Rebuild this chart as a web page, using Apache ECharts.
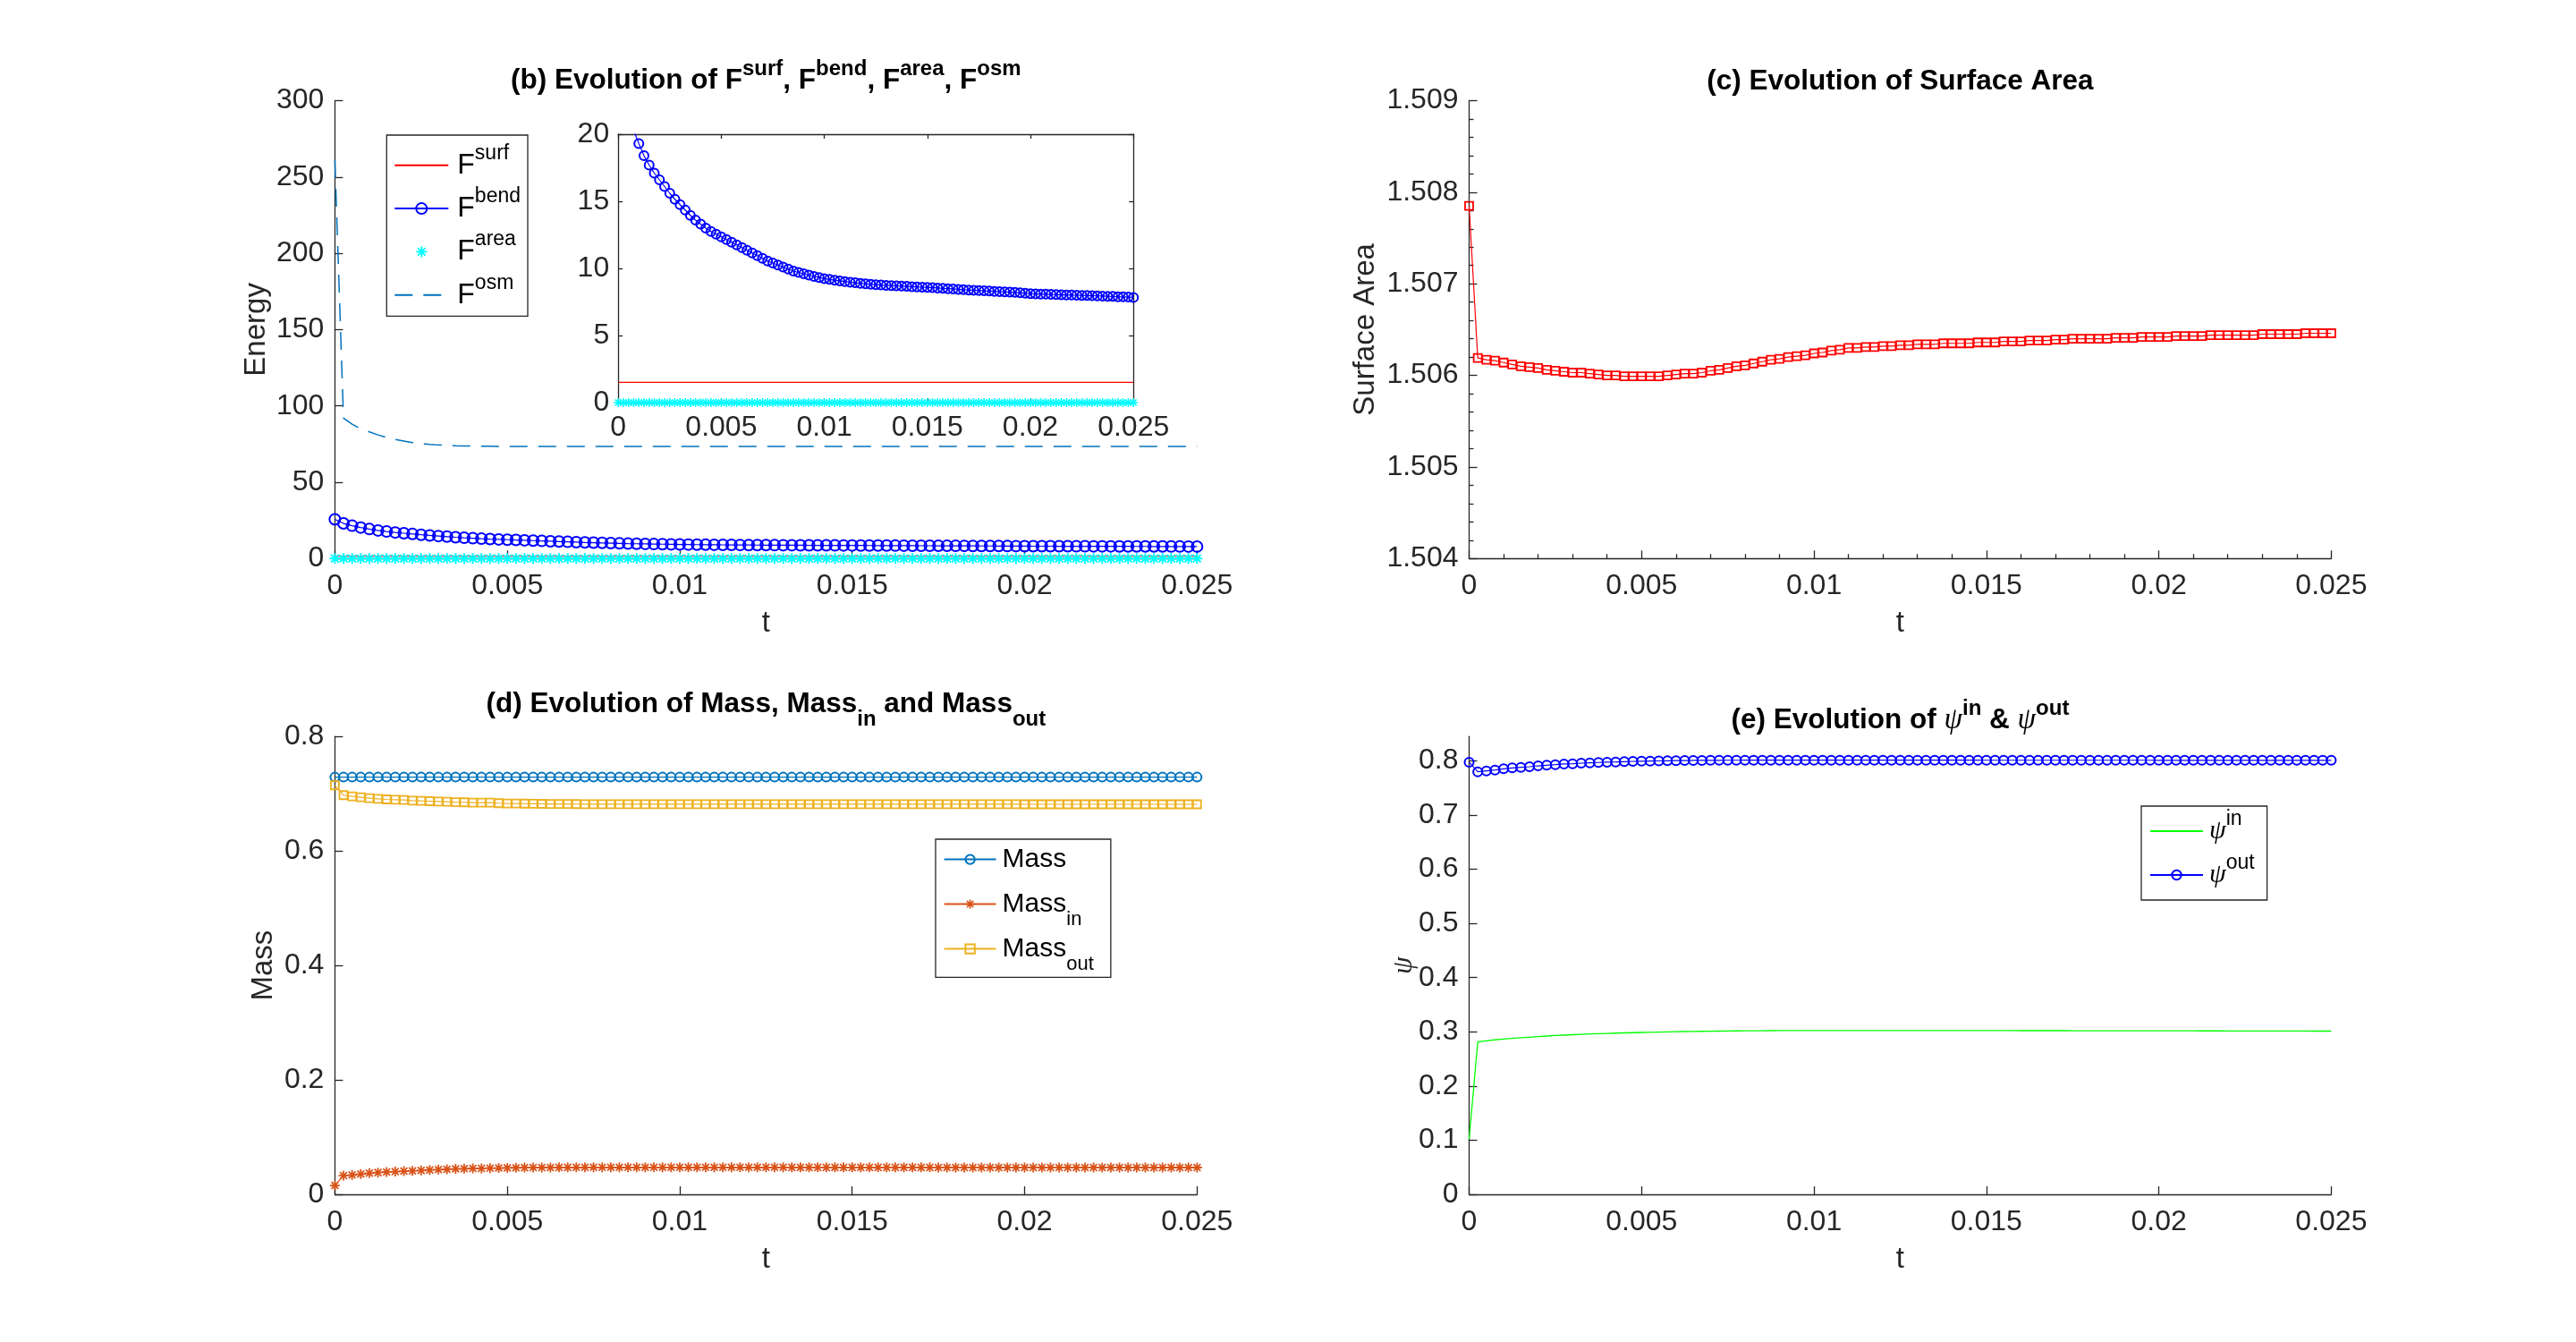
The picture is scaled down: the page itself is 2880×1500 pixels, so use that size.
<!DOCTYPE html>
<html>
<head>
<meta charset="utf-8">
<title>Evolution of energies, surface area, mass and psi</title>
<script src="https://cdn.jsdelivr.net/npm/echarts@6/dist/echarts.min.js"></script>
<style>
    html, body { margin: 0; padding: 0; background: #fff; }
    #main { width: 2880px; height: 1500px; }
</style>
</head>
<body>
<div id="main"></div>
<script>
    // time samples (dt = 0.00025)
    var tVals = [
        0, 0.00025, 0.0005, 0.00075, 0.001, 0.00125, 0.0015, 0.00175, 0.002, 0.00225,
        0.0025, 0.00275, 0.003, 0.00325, 0.0035, 0.00375, 0.004, 0.00425, 0.0045, 0.00475,
        0.005, 0.00525, 0.0055, 0.00575, 0.006, 0.00625, 0.0065, 0.00675, 0.007, 0.00725,
        0.0075, 0.00775, 0.008, 0.00825, 0.0085, 0.00875, 0.009, 0.00925, 0.0095, 0.00975,
        0.01, 0.01025, 0.0105, 0.01075, 0.011, 0.01125, 0.0115, 0.01175, 0.012, 0.01225,
        0.0125, 0.01275, 0.013, 0.01325, 0.0135, 0.01375, 0.014, 0.01425, 0.0145, 0.01475,
        0.015, 0.01525, 0.0155, 0.01575, 0.016, 0.01625, 0.0165, 0.01675, 0.017, 0.01725,
        0.0175, 0.01775, 0.018, 0.01825, 0.0185, 0.01875, 0.019, 0.01925, 0.0195, 0.01975,
        0.02, 0.02025, 0.0205, 0.02075, 0.021, 0.02125, 0.0215, 0.02175, 0.022, 0.02225,
        0.0225, 0.02275, 0.023, 0.02325, 0.0235, 0.02375, 0.024, 0.02425, 0.0245, 0.02475,
        0.025
    ];

    // (b) energies
    var fSurf = [
        1.51, 1.51, 1.51, 1.51, 1.51, 1.51, 1.51, 1.51, 1.51, 1.51,
        1.51, 1.51, 1.51, 1.51, 1.51, 1.51, 1.51, 1.51, 1.51, 1.51,
        1.51, 1.51, 1.51, 1.51, 1.51, 1.51, 1.51, 1.51, 1.51, 1.51,
        1.51, 1.51, 1.51, 1.51, 1.51, 1.51, 1.51, 1.51, 1.51, 1.51,
        1.51, 1.51, 1.51, 1.51, 1.51, 1.51, 1.51, 1.51, 1.51, 1.51,
        1.51, 1.51, 1.51, 1.51, 1.51, 1.51, 1.51, 1.51, 1.51, 1.51,
        1.51, 1.51, 1.51, 1.51, 1.51, 1.51, 1.51, 1.51, 1.51, 1.51,
        1.51, 1.51, 1.51, 1.51, 1.51, 1.51, 1.51, 1.51, 1.51, 1.51,
        1.51, 1.51, 1.51, 1.51, 1.51, 1.51, 1.51, 1.51, 1.51, 1.51,
        1.51, 1.51, 1.51, 1.51, 1.51, 1.51, 1.51, 1.51, 1.51, 1.51,
        1.51
    ];
    var fBend = [
        25.7, 23.0, 21.5, 20.3, 19.3, 18.4, 17.7, 17.1, 16.6, 16.1,
        15.6, 15.15, 14.75, 14.35, 13.95, 13.6, 13.3, 13.0, 12.75, 12.55,
        12.35, 12.15, 11.95, 11.75, 11.55, 11.35, 11.15, 10.95, 10.75, 10.55,
        10.4, 10.25, 10.1, 9.95, 9.8, 9.7, 9.6, 9.5, 9.4, 9.32,
        9.24, 9.18, 9.12, 9.07, 9.02, 8.97, 8.93, 8.89, 8.85, 8.82,
        8.79, 8.76, 8.74, 8.72, 8.70, 8.68, 8.66, 8.64, 8.62, 8.60,
        8.58, 8.57, 8.54, 8.51, 8.49, 8.47, 8.44, 8.41, 8.39, 8.37,
        8.35, 8.33, 8.31, 8.29, 8.27, 8.25, 8.23, 8.21, 8.18, 8.15,
        8.12, 8.10, 8.09, 8.08, 8.06, 8.05, 8.03, 8.02, 8.01, 8.00,
        7.99, 7.98, 7.97, 7.95, 7.94, 7.92, 7.91, 7.89, 7.88, 7.86,
        7.84
    ];
    var fArea = [
        0, 0, 0, 0, 0, 0, 0, 0, 0, 0,
        0, 0, 0, 0, 0, 0, 0, 0, 0, 0,
        0, 0, 0, 0, 0, 0, 0, 0, 0, 0,
        0, 0, 0, 0, 0, 0, 0, 0, 0, 0,
        0, 0, 0, 0, 0, 0, 0, 0, 0, 0,
        0, 0, 0, 0, 0, 0, 0, 0, 0, 0,
        0, 0, 0, 0, 0, 0, 0, 0, 0, 0,
        0, 0, 0, 0, 0, 0, 0, 0, 0, 0,
        0, 0, 0, 0, 0, 0, 0, 0, 0, 0,
        0, 0, 0, 0, 0, 0, 0, 0, 0, 0,
        0
    ];
    var fOsm = [
        261, 92, 88, 85, 83, 81, 79.3, 78, 77, 76,
        75.3, 74.8, 74.4, 74.1, 73.9, 73.8, 73.7, 73.6, 73.6, 73.5,
        73.5, 73.5, 73.5, 73.5, 73.5, 73.5, 73.5, 73.5, 73.5, 73.5,
        73.5, 73.5, 73.5, 73.5, 73.5, 73.5, 73.5, 73.5, 73.5, 73.5,
        73.5, 73.5, 73.5, 73.5, 73.5, 73.5, 73.5, 73.5, 73.5, 73.5,
        73.5, 73.5, 73.5, 73.5, 73.5, 73.5, 73.5, 73.5, 73.5, 73.5,
        73.5, 73.5, 73.5, 73.5, 73.5, 73.5, 73.5, 73.5, 73.5, 73.5,
        73.5, 73.5, 73.5, 73.5, 73.5, 73.5, 73.5, 73.5, 73.5, 73.5,
        73.5, 73.5, 73.5, 73.5, 73.5, 73.5, 73.5, 73.5, 73.5, 73.5,
        73.5, 73.5, 73.5, 73.5, 73.5, 73.5, 73.5, 73.5, 73.5, 73.5,
        73.5
    ];

    // (c) surface area
    var surfArea = [
        1.50785, 1.50619, 1.50617, 1.50616, 1.50614, 1.50612, 1.50610, 1.50609, 1.50608, 1.50606,
        1.50605, 1.50604, 1.50603, 1.50603, 1.50602, 1.50601, 1.50600, 1.50600, 1.50599, 1.50599,
        1.50599, 1.50599, 1.50599, 1.50600, 1.50601, 1.50602, 1.50602, 1.50603, 1.50605, 1.50606,
        1.50608, 1.50610, 1.50611, 1.50613, 1.50615, 1.50617, 1.50618, 1.50620, 1.50621, 1.50622,
        1.50624, 1.50625, 1.50627, 1.50628, 1.50630, 1.50630, 1.50631, 1.50631, 1.50632, 1.50632,
        1.50633, 1.50633, 1.50634, 1.50634, 1.50634, 1.50635, 1.50635, 1.50635, 1.50635, 1.50636,
        1.50636, 1.50636, 1.50637, 1.50637, 1.50637, 1.50638, 1.50638, 1.50638, 1.50639, 1.50639,
        1.50640, 1.50640, 1.50640, 1.50640, 1.50640, 1.50641, 1.50641, 1.50641, 1.50642, 1.50642,
        1.50642, 1.50642, 1.50643, 1.50643, 1.50643, 1.50643, 1.50644, 1.50644, 1.50644, 1.50644,
        1.50644, 1.50644, 1.50645, 1.50645, 1.50645, 1.50645, 1.50645, 1.50646, 1.50646, 1.50646,
        1.50646
    ];

    // (d) masses
    var mass = [
        0.729, 0.729, 0.729, 0.729, 0.729, 0.729, 0.729, 0.729, 0.729, 0.729,
        0.729, 0.729, 0.729, 0.729, 0.729, 0.729, 0.729, 0.729, 0.729, 0.729,
        0.729, 0.729, 0.729, 0.729, 0.729, 0.729, 0.729, 0.729, 0.729, 0.729,
        0.729, 0.729, 0.729, 0.729, 0.729, 0.729, 0.729, 0.729, 0.729, 0.729,
        0.729, 0.729, 0.729, 0.729, 0.729, 0.729, 0.729, 0.729, 0.729, 0.729,
        0.729, 0.729, 0.729, 0.729, 0.729, 0.729, 0.729, 0.729, 0.729, 0.729,
        0.729, 0.729, 0.729, 0.729, 0.729, 0.729, 0.729, 0.729, 0.729, 0.729,
        0.729, 0.729, 0.729, 0.729, 0.729, 0.729, 0.729, 0.729, 0.729, 0.729,
        0.729, 0.729, 0.729, 0.729, 0.729, 0.729, 0.729, 0.729, 0.729, 0.729,
        0.729, 0.729, 0.729, 0.729, 0.729, 0.729, 0.729, 0.729, 0.729, 0.729,
        0.729
    ];
    var massIn = [
        0.0156, 0.0329, 0.0339, 0.0355, 0.037, 0.0381, 0.0391, 0.0397, 0.0406, 0.0412,
        0.0418, 0.0427, 0.0433, 0.0438, 0.0444, 0.0449, 0.0453, 0.0455, 0.0458, 0.046,
        0.0463, 0.0465, 0.0467, 0.0468, 0.0469, 0.047, 0.0471, 0.0471, 0.0472, 0.0472,
        0.0472, 0.0472, 0.0472, 0.0472, 0.0472, 0.0472, 0.0472, 0.0472, 0.0472, 0.0472,
        0.0472, 0.0472, 0.0472, 0.0472, 0.0472, 0.0472, 0.0472, 0.0472, 0.0472, 0.0472,
        0.0472, 0.0472, 0.0472, 0.0471, 0.0471, 0.0471, 0.0471, 0.0471, 0.0471, 0.0471,
        0.0471, 0.0471, 0.0471, 0.0471, 0.0471, 0.0471, 0.0471, 0.0471, 0.0471, 0.0471,
        0.047, 0.047, 0.047, 0.047, 0.047, 0.047, 0.047, 0.047, 0.047, 0.047,
        0.047, 0.047, 0.047, 0.047, 0.047, 0.047, 0.047, 0.047, 0.047, 0.047,
        0.047, 0.047, 0.047, 0.047, 0.047, 0.0469, 0.0469, 0.0469, 0.0469, 0.0469,
        0.0469
    ];
    var massOut = [
        0.7147, 0.6975, 0.6954, 0.6938, 0.6922, 0.6912, 0.6901, 0.6896, 0.6891, 0.6881,
        0.6875, 0.687, 0.6865, 0.686, 0.6852, 0.685, 0.6845, 0.6844, 0.6843, 0.6835,
        0.6829, 0.6828, 0.6827, 0.6826, 0.6823, 0.6822, 0.6821, 0.682, 0.6819, 0.6818,
        0.6817, 0.6817, 0.6817, 0.6817, 0.6817, 0.6817, 0.6817, 0.6817, 0.6817, 0.6817,
        0.6817, 0.6817, 0.6817, 0.6817, 0.6817, 0.6817, 0.6817, 0.6817, 0.6817, 0.6817,
        0.6816, 0.6816, 0.6816, 0.6816, 0.6816, 0.6816, 0.6816, 0.6816, 0.6816, 0.6816,
        0.6816, 0.6816, 0.6816, 0.6816, 0.6816, 0.6816, 0.6816, 0.6816, 0.6816, 0.6816,
        0.6816, 0.6816, 0.6816, 0.6816, 0.6816, 0.6816, 0.6816, 0.6816, 0.6816, 0.6816,
        0.6815, 0.6815, 0.6815, 0.6815, 0.6815, 0.6815, 0.6815, 0.6815, 0.6815, 0.6815,
        0.6815, 0.6815, 0.6815, 0.6815, 0.6815, 0.6815, 0.6815, 0.6815, 0.6815, 0.6815,
        0.6815
    ];

    // (e) psi in / out
    var psiIn = [
        0.102, 0.2815, 0.2835, 0.2852, 0.2866, 0.2878, 0.289, 0.2901, 0.2912, 0.2922,
        0.2931, 0.2939, 0.2947, 0.2954, 0.296, 0.2966, 0.2971, 0.2976, 0.298, 0.2984,
        0.2988, 0.2992, 0.2996, 0.2999, 0.3002, 0.3005, 0.3007, 0.3009, 0.3011, 0.3013,
        0.3015, 0.3017, 0.3018, 0.3019, 0.302, 0.3021, 0.3022, 0.3023, 0.3023, 0.3023,
        0.3023, 0.3023, 0.3023, 0.3023, 0.3023, 0.3023, 0.3023, 0.3023, 0.3023, 0.3023,
        0.3023, 0.3023, 0.3023, 0.3023, 0.3023, 0.3022, 0.3022, 0.3022, 0.3022, 0.3022,
        0.3022, 0.3022, 0.3022, 0.3022, 0.3021, 0.3021, 0.3021, 0.3021, 0.3021, 0.3021,
        0.302, 0.302, 0.302, 0.302, 0.302, 0.302, 0.3019, 0.3019, 0.3019, 0.3019,
        0.3019, 0.3018, 0.3018, 0.3018, 0.3018, 0.3017, 0.3017, 0.3017, 0.3016, 0.3016,
        0.3016, 0.3016, 0.3015, 0.3015, 0.3015, 0.3014, 0.3014, 0.3014, 0.3013, 0.3013,
        0.3013
    ];
    var psiOut = [
        0.7975, 0.7798, 0.7815, 0.7831, 0.7853, 0.787, 0.7881, 0.7892, 0.7908, 0.792,
        0.793, 0.7942, 0.7947, 0.7958, 0.7964, 0.797, 0.7975, 0.798, 0.7986, 0.7991,
        0.7994, 0.7997, 0.7999, 0.8002, 0.8004, 0.8006, 0.8008, 0.8009, 0.801, 0.8011,
        0.8012, 0.8012, 0.8013, 0.8013, 0.8013, 0.8013, 0.8013, 0.8013, 0.8013, 0.8013,
        0.8013, 0.8013, 0.8013, 0.8013, 0.8013, 0.8013, 0.8013, 0.8013, 0.8013, 0.8013,
        0.8013, 0.8013, 0.8013, 0.8013, 0.8013, 0.8013, 0.8013, 0.8013, 0.8013, 0.8013,
        0.8012, 0.8012, 0.8012, 0.8012, 0.8012, 0.8012, 0.8012, 0.8012, 0.8012, 0.8012,
        0.8012, 0.8012, 0.8012, 0.8012, 0.8012, 0.8012, 0.8012, 0.8012, 0.8012, 0.8012,
        0.8011, 0.8011, 0.8011, 0.8011, 0.8011, 0.8011, 0.8011, 0.8011, 0.8011, 0.8011,
        0.8011, 0.8011, 0.8011, 0.8011, 0.8011, 0.801, 0.801, 0.801, 0.801, 0.801,
        0.801
    ];

    // tick labels of the psi axis (its top is not on a tick)
    var psiTicks = [0, 0.1, 0.2, 0.3, 0.4, 0.5, 0.6, 0.7, 0.8];

    var FONT = '"Liberation Sans", Arial, Helvetica, sans-serif';
    var SERIF = '"Liberation Serif", "DejaVu Serif", serif';
    var axisColor = '#262626';
    var NONE = 'rgba(0,0,0,0)';
    // matlab '*' marker, drawn as four filled thin bars
    var STAR = 'path://M-1.6,-10L1.6,-10L1.6,10L-1.6,10Z' +
        'M-10,-1.6L10,-1.6L10,1.6L-10,1.6Z' +
        'M-5.94,-8.2L8.2,5.94L5.94,8.2L-8.2,-5.94Z' +
        'M-8.2,5.94L5.94,-8.2L8.2,-5.94L-5.94,8.2Z';

    function pts(ys) {
        return tVals.map(function (t, i) {
            return [t, ys[i]];
        });
    }

    function extend(a, b) {
        var k;
        for (k in b) {
            a[k] = b[k];
        }
        return a;
    }

    function axis(o) {
        return {
            type: 'value',
            gridIndex: o.grid,
            position: o.position,
            min: o.min,
            max: o.max,
            interval: o.interval,
            axisLine: { show: true, onZero: false, lineStyle: { color: axisColor, width: 1.3 } },
            axisTick: {
                show: true, inside: true, length: o.tick || 9, customValues: o.ticks,
                lineStyle: { color: axisColor, width: 1.3 }
            },
            minorTick: {
                show: !!o.minor, splitNumber: o.minor || 5, length: 5,
                lineStyle: { color: axisColor, width: 1.3 }
            },
            axisLabel: {
                show: !o.noLabel, margin: o.margin, customValues: o.ticks,
                fontFamily: FONT, fontSize: 32, color: axisColor
            },
            splitLine: { show: false },
            name: o.name,
            nameLocation: 'middle',
            nameGap: o.nameGap,
            nameRotate: o.rotate,
            nameMoveOverlap: false,
            nameTextStyle: extend({ fontFamily: FONT, fontSize: 33, color: axisColor }, o.nameStyle || {})
        };
    }

    function marked(name, xi, yi, ys, symbol, size, color, extra) {
        return extend({
            name: name,
            type: 'line',
            xAxisIndex: xi,
            yAxisIndex: yi,
            data: pts(ys),
            symbol: symbol,
            symbolSize: size,
            clip: false,
            lineStyle: { color: color, width: 1.2 },
            itemStyle: { color: NONE, borderColor: color, borderWidth: 2 },
            emphasis: { disabled: true }
        }, extra || {});
    }

    function starred(name, xi, yi, ys, size, color, extra) {
        return extend({
            name: name,
            type: 'line',
            xAxisIndex: xi,
            yAxisIndex: yi,
            data: pts(ys),
            symbol: STAR,
            symbolSize: size,
            clip: false,
            lineStyle: { color: color, width: 1.2 },
            itemStyle: { color: color, borderWidth: 0 },
            emphasis: { disabled: true }
        }, extra || {});
    }

    function plain(name, xi, yi, ys, color, lineStyle, extra) {
        return extend({
            name: name,
            type: 'line',
            xAxisIndex: xi,
            yAxisIndex: yi,
            data: pts(ys),
            symbol: 'none',
            clip: false,
            lineStyle: extend({ color: color, width: 1.3 }, lineStyle || {}),
            itemStyle: { color: NONE, borderColor: NONE, borderWidth: 0 },
            emphasis: { disabled: true }
        }, extra || {});
    }

    // rich text: superscripts sit at the top of a tall line, subscripts at its bottom
    var titleRich = {
        b: { fontFamily: FONT, fontSize: 31.5, fontWeight: 'bold', color: '#000', lineHeight: 50, verticalAlign: 'middle' },
        s: { fontFamily: FONT, fontSize: 24, fontWeight: 'bold', color: '#000', verticalAlign: 'top' },
        p: { fontFamily: SERIF, fontSize: 33, fontStyle: 'italic', fontWeight: 'normal', color: '#000', lineHeight: 50, verticalAlign: 'middle' }
    };
    var titleRichSub = {
        b: { fontFamily: FONT, fontSize: 31.5, fontWeight: 'bold', color: '#000', lineHeight: 58, verticalAlign: 'middle' },
        u: { fontFamily: FONT, fontSize: 24, fontWeight: 'bold', color: '#000', verticalAlign: 'bottom' }
    };

    function title(text, x, y, rich) {
        return {
            text: text,
            left: x,
            top: y,
            textAlign: 'center',
            padding: 0,
            textStyle: { fontFamily: FONT, fontSize: 31.5, fontWeight: 'bold', color: '#000', rich: rich || titleRich }
        };
    }

    // the trailing sub-styled blank keeps every row of the mass legend the same height
    var legendText = {
        'Fsurf': '{F|F}{s|surf}',
        'Fbend': '{F|F}{s|bend}',
        'Farea': '{F|F}{s|area}',
        'Fosm': '{F|F}{s|osm}',
        'Mass': '{M|Mass}{u| }',
        'Mass_in': '{M|Mass}{u|in}',
        'Mass_out': '{M|Mass}{u|out}',
        'psi_in': '{P|ψ}{s|in}',
        'psi_out': '{P|ψ}{s|out}'
    };

    function legend(data, x, y, pad, gap, itemWidth, itemHeight, rich) {
        return {
            data: data,
            left: x,
            top: y,
            orient: 'vertical',
            align: 'left',
            padding: pad,
            itemGap: gap,
            itemWidth: itemWidth,
            itemHeight: itemHeight,
            selectedMode: false,
            backgroundColor: '#fff',
            borderColor: axisColor,
            borderWidth: 1.3,
            borderRadius: 0,
            formatter: function (name) {
                return legendText[name];
            },
            textStyle: { fontFamily: FONT, fontSize: 30, color: '#000', rich: rich }
        };
    }

    var richB = {
        F: { fontFamily: FONT, fontSize: 32, color: '#000', lineHeight: 50, verticalAlign: 'middle', padding: [0, 0, 0, 5] },
        s: { fontFamily: FONT, fontSize: 23, color: '#000', verticalAlign: 'top' }
    };
    var richD = {
        M: { fontFamily: FONT, fontSize: 30, color: '#000', lineHeight: 57, verticalAlign: 'middle', padding: [0, 0, 0, 2] },
        u: { fontFamily: FONT, fontSize: 22, color: '#000', verticalAlign: 'bottom' }
    };
    var richE = {
        P: { fontFamily: SERIF, fontSize: 30, fontStyle: 'italic', color: '#000', lineHeight: 50, verticalAlign: 'middle', padding: [0, 0, 0, 2] },
        s: { fontFamily: FONT, fontSize: 23, color: '#000', verticalAlign: 'top' }
    };

    var gridBase = { outerBoundsMode: 'none', containLabel: false };

    var chart = echarts.init(document.getElementById('main'));

    var option = {
        animation: false,
        backgroundColor: '#fff',
        title: [
            title('{b|(b) Evolution of F}{s|surf}{b|, F}{s|bend}{b|, F}{s|area}{b|, F}{s|osm}', 856.35, 65),
            title('{b|(c) Evolution of Surface Area}', 2124.45, 66.5),
            title('{b|(d) Evolution of Mass, Mass}{u|in}{b| and Mass}{u|out}', 856.35, 758, titleRichSub),
            title('{b|(e) Evolution of }{p|ψ}{s|in}{b| & }{p|ψ}{s|out}', 2124.45, 780)
        ],
        legend: [
            legend(['Fsurf', 'Fbend', 'Farea', 'Fosm'], 432.3, 151, [8.8, 8, 7.6, 8], 7.3, 60, 15, richB),
            legend(['Mass', 'Mass_in', 'Mass_out'], 1046, 938, [7.6, 19, 3.2, 8.6], 6.5, 58, 13, richD),
            legend(['psi_in', 'psi_out'], 2394, 901, [3, 14, 13, 9], 9, 59, 13, richE)
        ],
        grid: [
            extend({ left: 374.4, top: 112.5, width: 963.9, height: 511.8 }, gridBase),
            extend({ left: 691.2, top: 150, width: 576, height: 300, show: true, backgroundColor: '#fff', borderWidth: 0 }, gridBase),
            extend({ left: 1642.5, top: 112.5, width: 963.9, height: 511.8 }, gridBase),
            extend({ left: 374.4, top: 823.2, width: 963.9, height: 511.8 }, gridBase),
            extend({ left: 1642.5, top: 823.2, width: 963.9, height: 511.8 }, gridBase)
        ],
        xAxis: [
            axis({ grid: 0, min: 0, max: 0.025, interval: 0.005, name: 't', nameGap: 56, margin: 15 }),
            axis({ grid: 1, min: 0, max: 0.025, interval: 0.005, margin: 12, tick: 5 }),
            axis({ grid: 1, position: 'top', min: 0, max: 0.025, interval: 0.005, noLabel: true, tick: 5 }),
            axis({ grid: 2, min: 0, max: 0.025, interval: 0.005, name: 't', nameGap: 56, margin: 15, minor: 5 }),
            axis({ grid: 3, min: 0, max: 0.025, interval: 0.005, name: 't', nameGap: 56, margin: 15 }),
            axis({ grid: 4, min: 0, max: 0.025, interval: 0.005, name: 't', nameGap: 56, margin: 15 })
        ],
        yAxis: [
            axis({ grid: 0, min: 0, max: 300, interval: 50, name: 'Energy', nameGap: 71, rotate: 90, margin: 12 }),
            axis({ grid: 1, min: 0, max: 20, interval: 5, margin: 10, tick: 5 }),
            axis({ grid: 1, position: 'right', min: 0, max: 20, interval: 5, noLabel: true, tick: 5 }),
            axis({ grid: 2, min: 1.504, max: 1.509, interval: 0.001, name: 'Surface Area', nameGap: 99, rotate: 90, margin: 12, minor: 5 }),
            axis({ grid: 3, min: 0, max: 0.8, interval: 0.2, name: 'Mass', nameGap: 63, rotate: 90, margin: 12 }),
            axis({
                grid: 4, min: 0, max: 0.845, ticks: psiTicks, name: 'ψ', nameGap: 57, rotate: 90, margin: 12,
                nameStyle: { fontFamily: SERIF, fontStyle: 'italic', fontSize: 31 }
            })
        ],
        series: [
            // (b) main axes
            plain('Fsurf', 0, 0, fSurf, '#ff0000'),
            marked('Fbend', 0, 0, fBend, 'circle', 12, '#0000ff'),
            starred('Farea', 0, 0, fArea, 12, '#00ffff', {
                lineStyle: { color: '#00ffff', width: 0, opacity: 0 }
            }),
            plain('Fosm', 0, 0, fOsm, '#0072bd', { width: 1.5, type: [20, 12] }),

            // (b) inset
            plain('Fsurf (inset)', 1, 1, fSurf, '#ff0000', {}, { clip: true }),
            marked('Fbend (inset)', 1, 1, fBend, 'circle', 10, '#0000ff', { clip: true }),
            starred('Farea (inset)', 1, 1, fArea, 10, '#00ffff', {
                lineStyle: { color: '#00ffff', width: 0, opacity: 0 }
            }),

            // (c)
            marked('Surface Area', 3, 3, surfArea, 'rect', 9, '#ff0000', {
                itemStyle: { color: NONE, borderColor: '#ff0000', borderWidth: 1.8 }
            }),

            // (d)
            marked('Mass', 4, 4, mass, 'circle', 10, '#0072bd'),
            starred('Mass_in', 4, 4, massIn, 11, '#d95319'),
            marked('Mass_out', 4, 4, massOut, 'rect', 9, '#edb120', {
                itemStyle: { color: NONE, borderColor: '#edb120', borderWidth: 1.8 }
            }),

            // (e)
            plain('psi_in', 5, 5, psiIn, '#00ff00'),
            marked('psi_out', 5, 5, psiOut, 'circle', 10, '#0000ff')
        ]
    };

    chart.setOption(option);
</script>
</body>
</html>
